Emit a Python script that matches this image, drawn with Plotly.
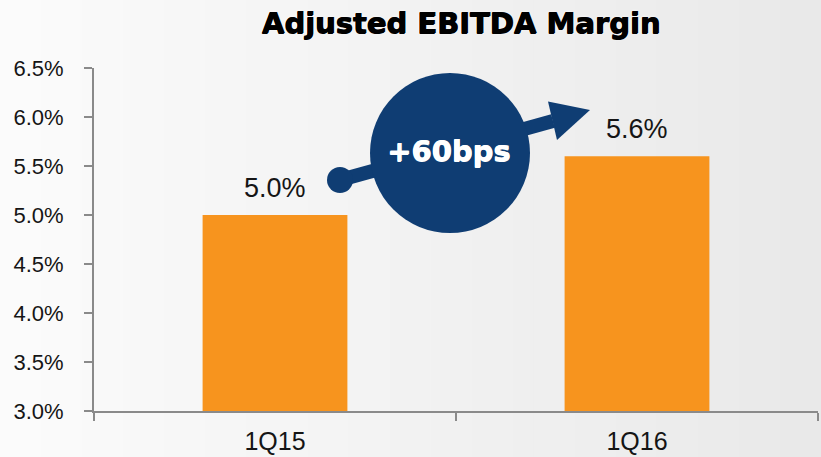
import plotly.graph_objects as go

# Chart data
quarters = ["1Q15", "1Q16"]
margin_pct = [5.0, 5.6]
change_label = "+60bps"
title_text = "Adjusted EBITDA Margin"
y_ticks = [3.0, 3.5, 4.0, 4.5, 5.0, 5.5, 6.0, 6.5]

W, H = 821, 457
ML, MR, MT, MB = 94, 3, 68, 46
PW, PH = W - ML - MR, H - MT - MB

BAR_COLOR = "#F7941E"
NAVY = "#0F3D73"
AXIS_COLOR = "#8A8A8A"
TEXT_COLOR = "#151515"


def px(x):
    """Figure pixel x -> plot-area paper coordinate."""
    return (x - ML) / PW


def py(y):
    """Figure pixel y -> plot-area paper coordinate."""
    return (H - MB - y) / PH


fig = go.Figure()

fig.add_trace(go.Bar(
    x=quarters,
    y=margin_pct,
    width=0.4,
    marker=dict(color=BAR_COLOR, line=dict(width=0)),
    hoverinfo="skip",
))

shapes = []

# soft horizontal background gradient
n_strips = 40
for i in range(n_strips):
    t = i / (n_strips - 1)
    v = int(round(251 - t * (251 - 233)))
    x0 = i * W / n_strips
    x1 = (i + 1) * W / n_strips + 1
    shapes.append(dict(
        type="rect", xref="paper", yref="paper",
        x0=px(x0), x1=px(x1), y0=py(H + 2), y1=py(-2),
        fillcolor=f"rgb({v},{v},{v})", line=dict(width=0), layer="below",
    ))

# growth arrow: shaft, tail dot, badge circle, arrowhead
shapes.append(dict(
    type="line", xref="paper", yref="paper",
    x0=px(340), y0=py(180), x1=px(553), y1=py(121),
    line=dict(color=NAVY, width=14),
))
shapes.append(dict(
    type="circle", xref="paper", yref="paper",
    x0=px(327), x1=px(353), y0=py(193), y1=py(167),
    fillcolor=NAVY, line=dict(width=0),
))
shapes.append(dict(
    type="circle", xref="paper", yref="paper",
    x0=px(370), x1=px(530), y0=py(233), y1=py(73),
    fillcolor=NAVY, line=dict(width=0),
))
head = [(548, 101.5), (590, 110), (557, 140)]
path = "M " + " L ".join(f"{px(a):.5f},{py(b):.5f}" for a, b in head) + " Z"
shapes.append(dict(
    type="path", xref="paper", yref="paper", path=path,
    fillcolor=NAVY, line=dict(width=0),
))

annotations = []
for q, v in zip(quarters, margin_pct):
    annotations.append(dict(
        x=q, y=v, xref="x", yref="y",
        text=f"{v:.1f}%", showarrow=False,
        yanchor="bottom", yshift=10,
        font=dict(family="Liberation Sans, Arial, sans-serif", size=27, color=TEXT_COLOR),
    ))

annotations.append(dict(
    x=px(448), y=py(151), xref="paper", yref="paper",
    text=change_label, showarrow=False,
    xanchor="center", yanchor="middle",
    font=dict(family="DejaVu Sans, sans-serif", size=29, color="white", weight="bold",
              shadow="0.7px 0 0 #ffffff, 0 0.5px 0 #ffffff"),
))

fig.update_layout(
    width=W, height=H,
    margin=dict(l=ML, r=MR, t=MT, b=MB, pad=0),
    paper_bgcolor="#F2F2F2",
    plot_bgcolor="rgba(0,0,0,0)",
    showlegend=False,
    title=dict(
        text=title_text,
        xref="container", yref="container",
        x=461 / W, y=1 - 23 / H,
        xanchor="center", yanchor="middle",
        font=dict(family="DejaVu Sans, sans-serif", size=29, color="#000000",
                  weight="bold",
                  shadow="0.8px 0 0 #000000, 0 0.6px 0 #000000, 0 0 3px #ffffff"),
    ),
    xaxis=dict(
        type="category",
        range=[-0.5, 1.5],
        showgrid=False, zeroline=False,
        showline=True, linecolor=AXIS_COLOR, linewidth=2,
        ticks="outside", tickson="boundaries",
        ticklen=8, tickwidth=2, tickcolor=AXIS_COLOR,
        ticklabelstandoff=7,
        tickfont=dict(family="Liberation Sans, Arial, sans-serif", size=25, color=TEXT_COLOR),
        fixedrange=True,
    ),
    yaxis=dict(
        range=[3.0, 6.5],
        tickvals=y_ticks,
        ticktext=[f"{t:.1f}%" for t in y_ticks],
        showgrid=False, zeroline=False,
        showline=True, linecolor=AXIS_COLOR, linewidth=2,
        ticks="outside", ticklen=8, tickwidth=2, tickcolor=AXIS_COLOR,
        ticklabelstandoff=16,
        tickfont=dict(family="Liberation Sans, Arial, sans-serif", size=22, color=TEXT_COLOR),
        fixedrange=True,
    ),
    shapes=shapes,
    annotations=annotations,
)

fig.write_html("out.html", config={"displayModeBar": False})
